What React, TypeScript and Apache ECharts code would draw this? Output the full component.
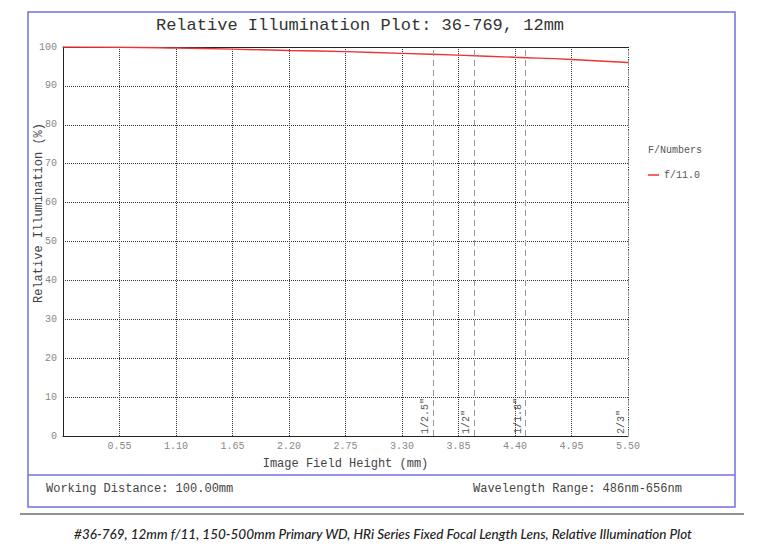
import React, { useEffect, useRef } from "react";
import * as echarts from "echarts";

const fieldHeights = [0, 0.55, 1.1, 1.65, 2.2, 2.75, 3.3, 3.85, 4.4, 4.95, 5.5];
const illumF11 = [100, 99.95, 99.75, 99.45, 99.1, 98.8, 98.35, 97.9, 97.35, 96.8, 96.0];
const sensorPositions = [3.6, 4.0, 4.5, 5.5];
const sensorLabels = ['1/2.5"', '1/2"', '1/1.8"', '2/3"'];
const seriesName = "f/11.0";

const MONO = '"Liberation Mono", "DejaVu Sans Mono", monospace';

export default function App() {
  const ref = useRef<HTMLDivElement>(null);
  useEffect(() => {
    if (!ref.current) return;
    const chart = echarts.init(ref.current, undefined, { renderer: "svg" });
    chart.setOption({
      animation: false,
      backgroundColor: "#ffffff",
      textStyle: { fontFamily: MONO },
      title: {
        text: "Relative Illumination Plot: 36-769, 12mm",
        left: 355,
        top: 12,
        textAlign: "center",
        textStyle: { fontFamily: MONO, fontSize: 17, fontWeight: "normal", color: "#333" },
      },
      grid: { left: 63, top: 47, right: 136, bottom: 115, containLabel: false },
      legend: {
        left: 643,
        top: 165,
        orient: "vertical",
        icon: "rect",
        itemWidth: 11,
        itemHeight: 1.5,
        itemGap: 6,
        textStyle: { fontFamily: MONO, fontSize: 10, color: "#555" },
        data: [seriesName],
      },
      xAxis: [
        {
          type: "value",
          min: 0,
          max: 5.5,
          interval: 0.55,
          name: "Image Field Height (mm)",
          nameLocation: "middle",
          nameGap: 22,
          nameTextStyle: { fontFamily: MONO, fontSize: 12, color: "#444" },
          axisLine: { show: true, lineStyle: { color: "#222", width: 1 } },
          axisTick: { show: false },
          axisLabel: {
            fontFamily: MONO,
            fontSize: 10,
            color: "#888",
            margin: 5,
            formatter: (v: number) => (v === 0 ? "" : v.toFixed(2)),
          },
          splitLine: { show: true, lineStyle: { color: "#333", type: [1, 1], width: 1 } },
        },
        {
          type: "value",
          position: "top",
          min: 0,
          max: 5.5,
          interval: 0.55,
          axisLine: { show: true, lineStyle: { color: "#222", width: 1 } },
          axisTick: { show: false },
          axisLabel: { show: false },
          splitLine: { show: false },
        },
      ],
      yAxis: {
        type: "value",
        min: 0,
        max: 100,
        interval: 10,
        axisLine: { show: true, lineStyle: { color: "#222", width: 1 } },
        axisTick: { show: false },
        axisLabel: { fontFamily: MONO, fontSize: 10, color: "#888", margin: 6 },
        splitLine: { show: true, lineStyle: { color: "#333", type: [1, 1], width: 1 } },
      },
      series: [
        {
          name: seriesName,
          type: "line",
          data: fieldHeights.map((x, i) => [x, illumF11[i]]),
          showSymbol: false,
          smooth: true,
          lineStyle: { color: "#ee3333", width: 1.4 },
          itemStyle: { color: "#ee3333" },
          markLine: {
            silent: true,
            symbol: "none",
            lineStyle: { color: "#999", type: [6, 4], width: 1 },
            label: {
              show: true,
              position: "insideStartTop",
              distance: 2,
              fontFamily: MONO,
              fontSize: 10,
              color: "#555",
              formatter: (p: any) => sensorLabels[p.dataIndex],
            },
            data: sensorPositions.map((x) => ({ xAxis: x })),
          },
        },
      ],
      graphic: [
        {
          type: "rect",
          shape: { x: 28, y: 12, width: 707, height: 495 },
          style: { fill: "none", stroke: "#7070e6", lineWidth: 1.5 },
          silent: true,
        },
        {
          type: "line",
          shape: { x1: 28, y1: 475, x2: 735, y2: 475 },
          style: { stroke: "#7070e6", lineWidth: 1.5 },
          silent: true,
        },
        {
          type: "line",
          shape: { x1: 20, y1: 514, x2: 744, y2: 514 },
          style: { stroke: "#222", lineWidth: 1.2 },
          silent: true,
        },
        {
          type: "text",
          x: 39,
          y: 213,
          rotation: Math.PI / 2,
          style: {
            text: "Relative Illumination (%)",
            font: `12px ${MONO}`,
            fill: "#444",
            align: "center",
            verticalAlign: "middle",
          },
        },
        {
          type: "text",
          left: 648,
          top: 145,
          style: { text: "F/Numbers", font: `10px ${MONO}`, fill: "#555" },
        },
        {
          type: "text",
          left: 46,
          top: 483,
          style: { text: "Working Distance: 100.00mm", font: `12px ${MONO}`, fill: "#444" },
        },
        {
          type: "text",
          left: 473,
          top: 483,
          style: { text: "Wavelength Range: 486nm-656nm", font: `12px ${MONO}`, fill: "#444" },
        },
        {
          type: "text",
          x: 383,
          y: 534,
          style: {
            text: "#36-769, 12mm f/11, 150-500mm Primary WD, HRi Series Fixed Focal Length Lens, Relative Illumination Plot",
            font: 'italic 500 13.5px "Lato", "Open Sans", sans-serif',
            fill: "#222",
            align: "center",
            verticalAlign: "middle",
          },
        },
      ],
    });
    return () => chart.dispose();
  }, []);
  return (
    <div
      ref={ref}
      style={{ position: "absolute", left: 0, top: 0, width: 764, height: 551 }}
    />
  );
}
